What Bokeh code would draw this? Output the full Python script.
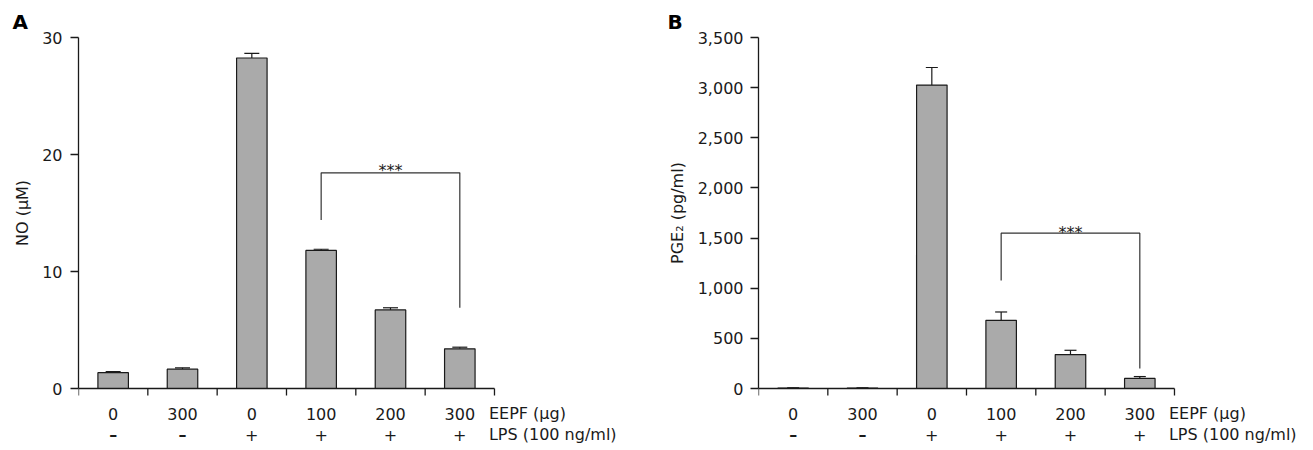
from bokeh.plotting import figure
from bokeh.models import ColumnDataSource, Whisker, TeeHead, FixedTicker, NumeralTickFormatter, Range1d, Title
from bokeh.layouts import row
from bokeh.embed import file_html
from bokeh.resources import INLINE
from bokeh.core.properties import value

# ---------------- data ----------------
eepf_labels = ["0", "300", "0", "100", "200", "300"]
lps_labels = ["\u2013", "\u2013", "+", "+", "+", "+"]

no_mean = [1.35, 1.65, 28.25, 11.8, 6.72, 3.39]
no_err = [0.10, 0.12, 0.40, 0.10, 0.18, 0.14]
no_ticks = [0, 10, 20, 30]

pge2_mean = [4, 4, 3026, 680, 338, 100]
pge2_err = [3, 3, 175, 83, 43, 19]
pge2_ticks = [0, 500, 1000, 1500, 2000, 2500, 3000, 3500]

# significance brackets: (bar level, left leg end, right leg end), between groups 4 and 6
no_bracket = (18.43, 14.4, 6.9)
pge2_bracket = (1549, 1078, 199)
bracket_groups = (3, 5)
sig_text = "***"

# ---------------- layout constants (page pixels) ----------------
FONT = "DejaVu Sans"
FIG_H = 448
BORDER_TOP = 36
FRAME_TOP = BORDER_TOP
ZERO_PX = 388
TOPTICK_PX = 37
BOTTOM_PX = FIG_H
CAT_PX = 69.33
INK = "#1a1a1a"


def panel(letter, means, errs, ticks, ylabel, ylabel_len, bracket, fig_w, border_left,
          title_offset, label_standoff, ylabel_standoff, cap, star_off, thousands):
    ymax = ticks[-1]
    s = (ZERO_PX - TOPTICK_PX) / ymax  # px per unit
    frame_w = fig_w - border_left
    p = figure(width=fig_w, height=FIG_H,
               x_range=Range1d(0, frame_w / CAT_PX),
               y_range=Range1d(-(BOTTOM_PX - ZERO_PX) / s, (ZERO_PX - FRAME_TOP) / s),
               output_backend="svg", toolbar_location=None, x_axis_location=None,
               min_border_left=border_left, min_border_right=0,
               min_border_top=BORDER_TOP, min_border_bottom=0,
               outline_line_color=None, title=letter)
    p.grid.visible = False
    p.title.text_font = FONT
    p.title.text_font_size = "20px"
    p.title.text_font_style = "bold"
    p.title.text_color = "black"
    p.title.align = "left"
    p.title.offset = title_offset
    p.title.standoff = 6

    n = len(means)
    xs = [i + 0.5 for i in range(n)]
    src = ColumnDataSource(dict(x=xs, top=means,
                                upper=[m + e for m, e in zip(means, errs)]))
    p.vbar(x="x", top="top", bottom=0, width=0.44, source=src,
           fill_color="#aaaaaa", line_color=INK, line_width=1.2)
    w = Whisker(base="x", upper="upper", lower="top", source=src,
                line_color=INK, line_width=1.2,
                upper_head=TeeHead(size=cap, line_color=INK, line_width=1.2),
                lower_head=None)
    p.add_layout(w)

    # y axis
    ax = p.yaxis[0]
    ax.ticker = FixedTicker(ticks=ticks)
    ax.bounds = (0, ymax)
    if thousands:
        ax.formatter = NumeralTickFormatter(format="0,0")
    ax.minor_tick_line_color = None
    ax.major_tick_out = 8
    ax.major_tick_in = 0
    ax.axis_line_color = INK
    ax.axis_line_width = 1.3
    ax.major_tick_line_color = INK
    ax.major_tick_line_width = 1.3
    ax.major_label_text_font = FONT
    ax.major_label_text_font_size = "16px"
    ax.major_label_text_color = INK
    ax.major_label_standoff = label_standoff

    # y axis title as a side title, centred on the 0..ymax axis extent
    axis_mid = (ZERO_PX + TOPTICK_PX) / 2
    yt = Title(text=ylabel, align="left",
               offset=(BOTTOM_PX - axis_mid) - ylabel_len / 2,
               text_font=FONT, text_font_size="16px", text_font_style="normal",
               text_color=INK, standoff=ylabel_standoff)
    p.add_layout(yt, "left")

    # x axis line and boundary ticks
    tick_len = 7 / s
    bounds = list(range(n + 1))
    p.segment(x0=[0], y0=[0], x1=[n], y1=[0], line_color=INK, line_width=1.3)
    p.segment(x0=bounds, y0=[0] * len(bounds), x1=bounds, y1=[-tick_len] * len(bounds),
              line_color=INK, line_width=1.3)

    # category labels
    y1 = -25 / s
    y2 = -46 / s
    p.text(x=xs, y=[y1] * n, text=eepf_labels, text_align="center", text_baseline="middle",
           text_font=value(FONT), text_font_size="16px", text_color=INK)
    lsrc = ColumnDataSource(dict(x=xs, y=[y2] * n, t=lps_labels,
                                 st=["bold" if t == "\u2013" else "normal" for t in lps_labels]))
    p.text(x="x", y="y", text="t", source=lsrc, text_align="center", text_baseline="middle",
           text_font=value(FONT), text_font_size="16px", text_font_style="st", text_color=INK)
    p.text(x=[n - 0.08, n - 0.08], y=[y1, y2], text=["EEPF (\u03bcg)", "LPS (100 ng/ml)"],
           text_align="left", text_baseline="middle",
           text_font=value(FONT), text_font_size="16px", text_color=INK)

    # significance bracket
    lvl, lend, rend = bracket
    gl, gr = bracket_groups
    p.line(x=[gl + 0.5, gl + 0.5, gr + 0.5, gr + 0.5], y=[lend, lvl, lvl, rend],
           line_color="#333333", line_width=1.2)
    p.text(x=[(gl + gr) / 2 + 0.5], y=[lvl + star_off / s], text=[sig_text],
           text_align="center", text_baseline="alphabetic",
           text_font=value(FONT), text_font_size="16px", text_color=INK)
    return p


pA = panel("A", no_mean, no_err, no_ticks, "NO (\u03bcM)", 66, no_bracket,
           fig_w=648, border_left=78, title_offset=-66, label_standoff=8,
           ylabel_standoff=16, cap=15, star_off=2.6, thousands=False)
pB = panel("B", pge2_mean, pge2_err, pge2_ticks, "PGE\u2082 (pg/ml)", 102, pge2_bracket,
           fig_w=662, border_left=110, title_offset=-91, label_standoff=7,
           ylabel_standoff=16, cap=12, star_off=0.5, thousands=True)

layout = row(pA, pB)
open("out.html", "w").write(file_html(layout, INLINE))
